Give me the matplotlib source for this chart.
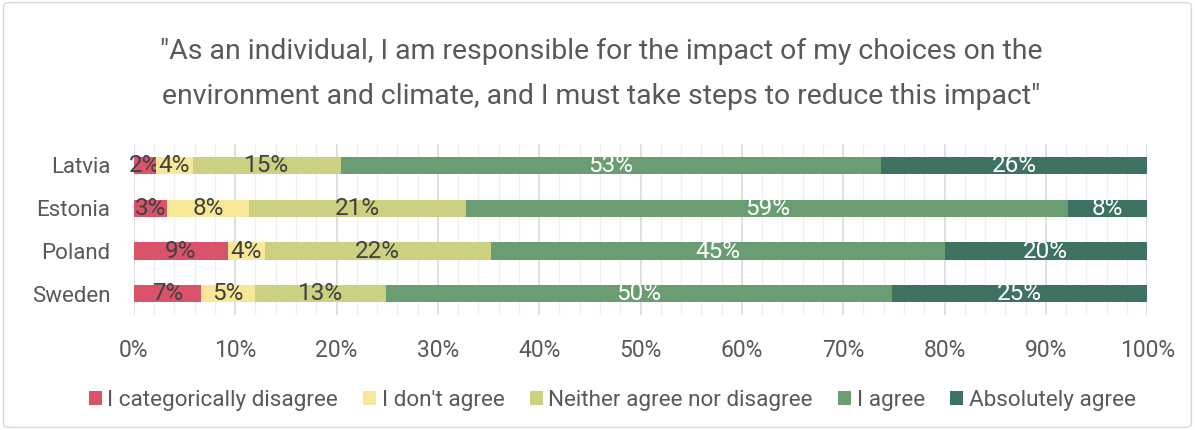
import matplotlib
matplotlib.use("Agg")
from matplotlib import pyplot as plt
from matplotlib.patches import FancyBboxPatch
from matplotlib.ticker import MultipleLocator, PercentFormatter

countries = ['Latvia', 'Estonia', 'Poland', 'Sweden']
answers = ['I categorically disagree', "I don't agree",
           'Neither agree nor disagree', 'I agree', 'Absolutely agree']

categorically = [2.2, 3.3, 9.3, 6.6]
dont_agree = [3.6, 8.1, 3.6, 5.4]
neither = [14.6, 21.4, 22.3, 12.9]
agree = [53.3, 59.4, 44.8, 49.9]
absolutely = [26.3, 7.8, 20.0, 25.2]

series = [categorically, dont_agree, neither, agree, absolutely]
cols = ['#D9536A', '#F6E897', '#CDD080', '#6A9D72', '#3D725E']
text_cols = ['#404040', '#404040', '#404040', 'white', 'white']

plt.rcParams['font.family'] = ['Roboto', 'DejaVu Sans']

fig = plt.figure(figsize=(11.95, 4.3), dpi=100)
ax = fig.add_axes([0.112, 0.267, 0.848, 0.398])

# light rounded frame around the whole chart
fig.patches.append(FancyBboxPatch((0.003, 0.006), 0.994, 0.988,
                                  boxstyle='round,pad=0,rounding_size=0.006',
                                  transform=fig.transFigure, fill=False,
                                  edgecolor='#D9D9D9', linewidth=1))

left = [0.0] * len(countries)
for vals, name, c, tc in zip(series, answers, cols, text_cols):
    bars = ax.barh(countries, vals, left=left, height=0.4, color=c,
                   label=name, zorder=3)
    ax.bar_label(bars, labels=['%.0f%%' % v for v in vals],
                 label_type='center', color=tc, fontsize=17.5)
    left = [a + b for a, b in zip(left, vals)]

ax.set_xlim(0, 100)
ax.set_ylim(3.5, -0.5)
ax.xaxis.set_major_locator(MultipleLocator(10))
ax.xaxis.set_minor_locator(MultipleLocator(2))
ax.xaxis.set_major_formatter(PercentFormatter(decimals=0))
ax.grid(axis='x', which='major', color='#D9D9D9', linewidth=1.2, zorder=0)
ax.grid(axis='x', which='minor', color='#F0F0F0', linewidth=1, zorder=0)
for s in ax.spines.values():
    s.set_visible(False)
ax.tick_params(axis='both', which='both', length=0, labelcolor='#595959')
ax.tick_params(axis='x', labelsize=16.5, pad=17)
ax.tick_params(axis='y', labelsize=16, pad=17)

fig.text(0.503, 0.827,
         '"As an individual, I am responsible for the impact of my choices on the\n'
         'environment and climate, and I must take steps to reduce this impact"',
         ha='center', va='center', fontsize=20.4, color='#595959',
         linespacing=1.85)

ax.legend(loc='center', bbox_to_anchor=(0.472, -0.5), ncol=5,
          frameon=False, fontsize=16.2, labelcolor='#595959',
          handlelength=0.58, handleheight=0.58, handletextpad=0.25,
          columnspacing=1.12)

fig.savefig('out.png', dpi=100)
